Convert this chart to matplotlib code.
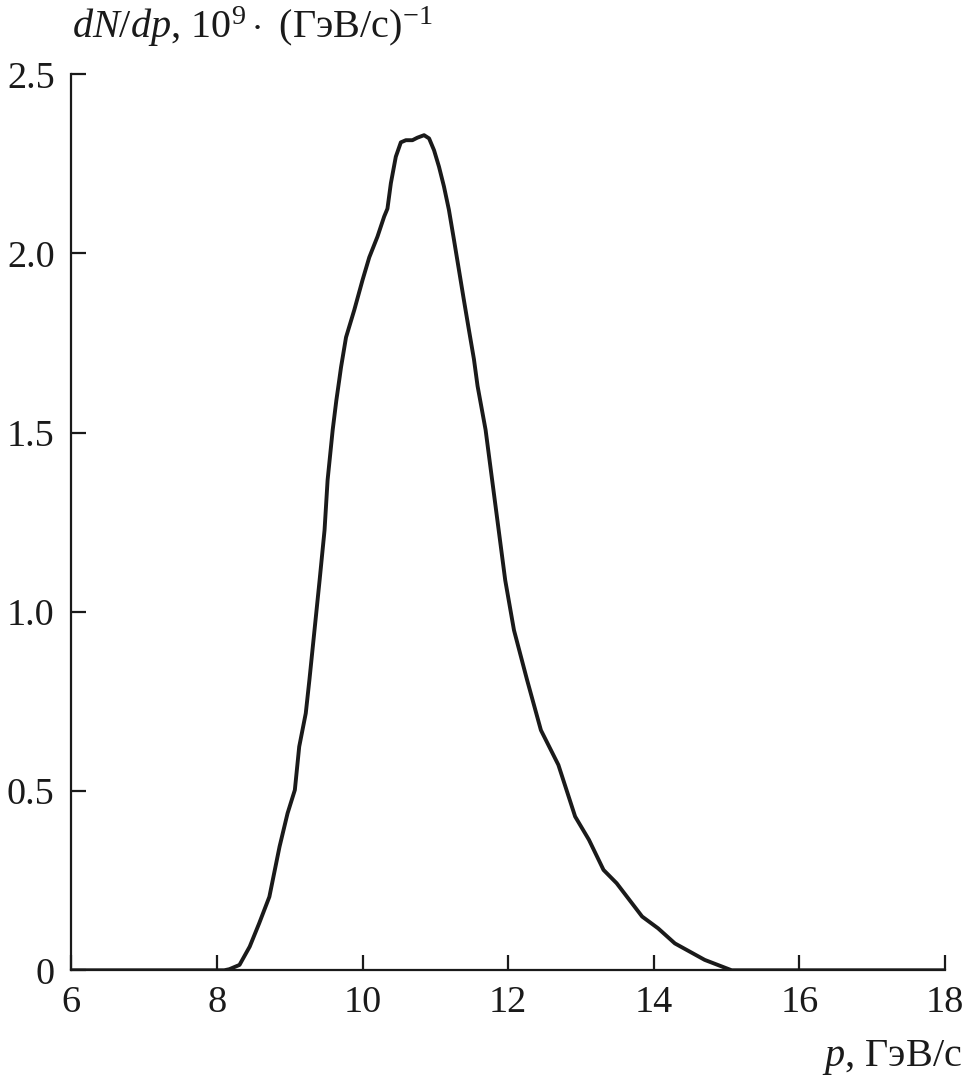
import matplotlib
matplotlib.use("Agg")
import matplotlib.pyplot as plt

plt.rcParams["font.family"] = ["Liberation Serif", "DejaVu Serif"]
plt.rcParams["mathtext.fontset"] = "custom"
plt.rcParams["mathtext.rm"] = "Liberation Serif"
plt.rcParams["mathtext.it"] = "Liberation Serif:italic"

# Импульсный спектр
p = [6.0, 8.0, 8.10, 8.17, 8.31, 8.45, 8.58, 8.72, 8.86, 8.97, 9.07, 9.13,
     9.22, 9.27, 9.34, 9.41, 9.478, 9.52, 9.59, 9.64, 9.68, 9.704, 9.773,
     9.886, 10.0, 10.092, 10.205, 10.297, 10.342, 10.389, 10.457, 10.526,
     10.595, 10.685, 10.753, 10.845, 10.914, 10.982, 11.05, 11.118, 11.186,
     11.255, 11.324, 11.392, 11.46, 11.53, 11.58, 11.69, 11.78, 11.87,
     11.96, 12.08, 12.26, 12.45, 12.69, 12.92, 13.11, 13.31, 13.49, 13.84,
     14.06, 14.29, 14.70, 15.07, 18.0]
dndp = [0.0, 0.0, 0.0, 0.003, 0.015, 0.066, 0.131, 0.205, 0.345, 0.438,
        0.503, 0.624, 0.717, 0.81, 0.949, 1.088, 1.228, 1.368, 1.508, 1.59,
        1.647, 1.682, 1.766, 1.842, 1.926, 1.989, 2.047, 2.103, 2.125, 2.196,
        2.27, 2.31, 2.316, 2.316, 2.323, 2.33, 2.321, 2.288, 2.242, 2.187,
        2.122, 2.039, 1.954, 1.87, 1.788, 1.705, 1.63, 1.508, 1.368, 1.228,
        1.088, 0.949, 0.81, 0.67, 0.573, 0.429, 0.364, 0.28, 0.243, 0.15,
        0.117, 0.075, 0.029, 0.0, 0.0]

x_ticks = [6, 8, 10, 12, 14, 16, 18]
y_ticks = [0, 0.5, 1.0, 1.5, 2.0, 2.5]
y_tick_labels = ["0", "0.5", "1.0", "1.5", "2.0", "2.5"]

fig = plt.figure(figsize=(9.68, 10.84), dpi=100)
ax = fig.add_axes([0.0737, 0.1049, 0.9025, 0.8266])

ax.plot(p, dndp, color="#1a1a1a", lw=2.8, solid_joinstyle="round")

ax.set_xlim(6, 18)
ax.set_ylim(0, 2.5)
ax.set_xticks(x_ticks)
ax.set_yticks(y_ticks)
ax.set_yticklabels(y_tick_labels)

for side in ["top", "right"]:
    ax.spines[side].set_visible(False)
for side in ["left", "bottom"]:
    ax.spines[side].set_linewidth(1.6)
    ax.spines[side].set_color("#1a1a1a")

ax.tick_params(direction="in", length=11, width=1.6, color="#1a1a1a",
               labelsize=27.5, labelcolor="#1a1a1a")
ax.tick_params(axis="x", pad=11)
ax.tick_params(axis="y", pad=12)

# подписи осей как в оригинале: сверху слева и снизу справа
fig.text(0.074, 1 - 38 / 1084, r"$dN / dp$, $10^9 \cdot$ (ГэВ/с)$^{-1}$",
         fontsize=29, ha="left", va="baseline", color="#1a1a1a")
fig.text(962 / 968, 1 - 1066 / 1084, r"$p$, ГэВ/с",
         fontsize=29, ha="right", va="baseline", color="#1a1a1a")

fig.savefig("out.png", dpi=100)
